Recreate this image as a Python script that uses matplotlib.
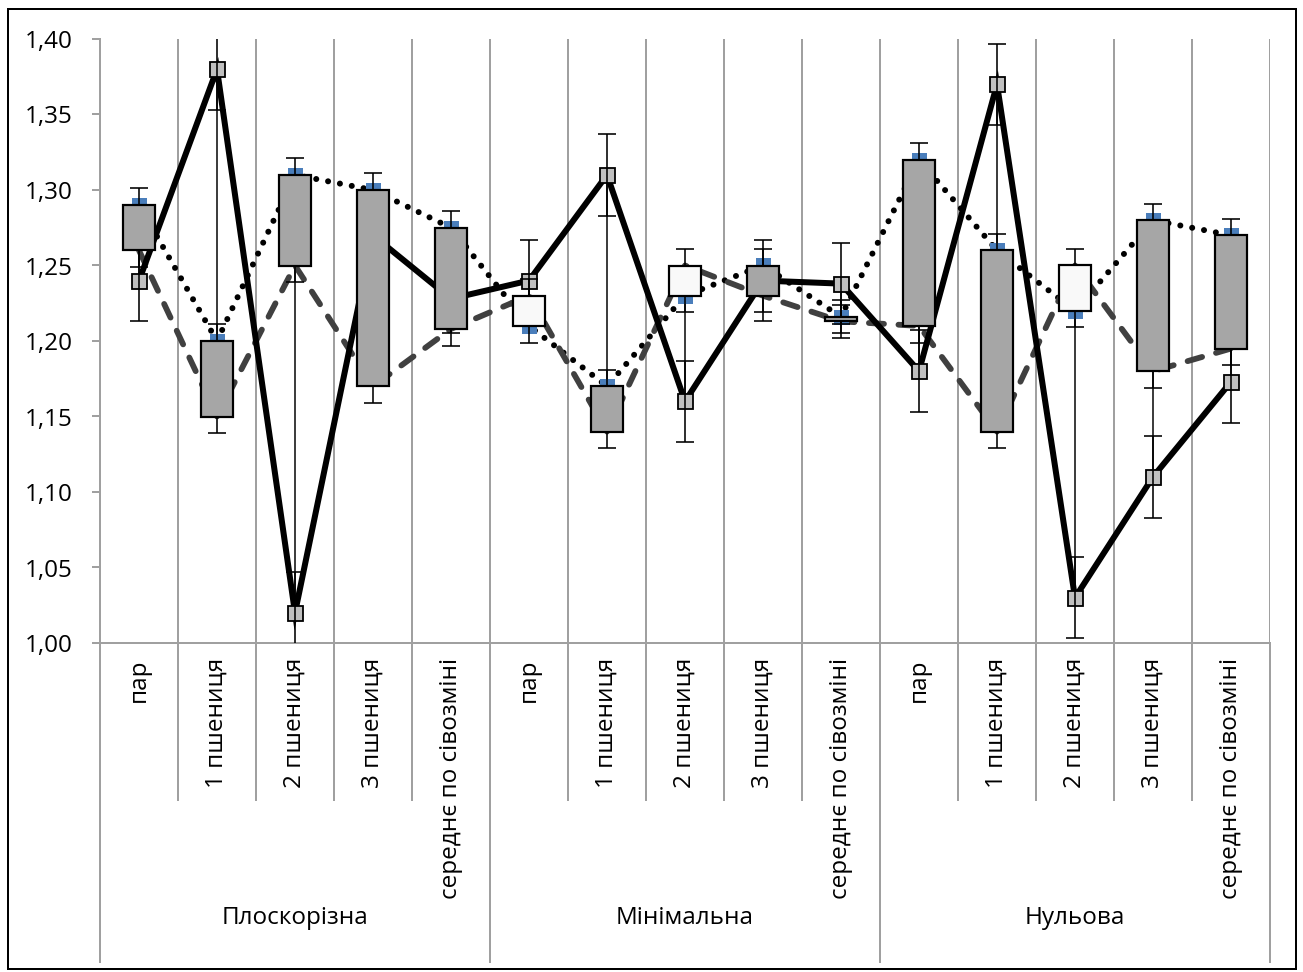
import matplotlib
matplotlib.use("Agg")
import matplotlib.pyplot as plt
from matplotlib.patches import Rectangle
from matplotlib.transforms import blended_transform_factory
import numpy as np

plt.rcParams['font.family'] = ['Open Sans', 'DejaVu Sans']

# ---------------- data ----------------
categories = ['пар', '1 пшениця', '2 пшениця', '3 пшениця', 'середнє по сівозміні',
              'пар', '1 пшениця', '2 пшениця', '3 пшениця', 'середнє по сівозміні',
              'пар', '1 пшениця', '2 пшениця', '3 пшениця', 'середнє по сівозміні']
groups = ['Плоскорізна', 'Мінімальна', 'Нульова']

open_vals = [1.29, 1.20, 1.31, 1.30, 1.275,
             1.21, 1.17, 1.23, 1.25, 1.216,
             1.32, 1.26, 1.22, 1.28, 1.27]
close_vals = [1.26, 1.15, 1.25, 1.17, 1.208,
              1.23, 1.14, 1.25, 1.23, 1.213,
              1.21, 1.14, 1.25, 1.18, 1.195]
solid_vals = [1.24, 1.38, 1.02, 1.27, 1.228,
              1.24, 1.31, 1.16, 1.24, 1.238,
              1.18, 1.37, 1.03, 1.11, 1.173]
open_err = [0.011, 0.011, 0.011, 0.011, 0.011,
            0.011, 0.011, 0.011, 0.011, 0.011,
            0.011, 0.011, 0.011, 0.011, 0.011]
close_err = [0.011, 0.011, 0.011, 0.011, 0.011,
             0.011, 0.011, 0.011, 0.011, 0.011,
             0.011, 0.011, 0.011, 0.011, 0.011]
solid_err = [0.027, 0.027, 0.027, 0.027, 0.023,
             0.027, 0.027, 0.027, 0.027, 0.027,
             0.027, 0.027, 0.027, 0.027, 0.027]

yticks = [1.00, 1.05, 1.10, 1.15, 1.20, 1.25, 1.30, 1.35, 1.40]

# ---------------- figure ----------------
W, H = 1303, 972
fig = plt.figure(figsize=(W / 100, H / 100), dpi=100)
L, R, T, B = 100, 1270, 39, 643
ax = fig.add_axes([L / W, 1 - B / H, (R - L) / W, (B - T) / H])

n = len(categories)
x = np.arange(n)
ax.set_xlim(-0.5, n - 0.5)
ax.set_ylim(1.0, 1.40)

grid_c = '#a0a0a0'
px = 0.72  # points per pixel
fs = 17.5

# vertical separators inside plot
for b in np.arange(0.5, n, 1.0):
    ax.axvline(b, color=grid_c, lw=2 * px, zorder=0)

# high-low lines
lo = np.minimum(np.minimum(open_vals, close_vals), solid_vals)
hi = np.maximum(np.maximum(open_vals, close_vals), solid_vals)
ax.vlines(x, lo, hi, color='black', lw=1.5 * px, zorder=1)

# series lines
ax.plot(x, open_vals, color='black', lw=6 * px, linestyle=(0, (0.01, 2.0)),
        dash_capstyle='round', zorder=2)
ax.plot(x, close_vals, color='#404040', lw=5.8 * px, linestyle=(0, (2.6, 2.5)),
        dash_capstyle='round', zorder=2)
ax.plot(x, solid_vals, color='black', lw=6 * px, solid_joinstyle='miter', zorder=2)

# markers
ax.plot(x, open_vals, linestyle='none', marker='s', markersize=15 * px,
        markerfacecolor='#4a7ebb', markeredgewidth=0, zorder=3)
ax.plot(x, solid_vals, linestyle='none', marker='s', markersize=15 * px,
        markerfacecolor='#c0c0c0', markeredgecolor='black', markeredgewidth=1.8 * px,
        zorder=3)

# error bars
for vals, err in [(open_vals, open_err), (close_vals, close_err), (solid_vals, solid_err)]:
    ax.errorbar(x, vals, yerr=err, fmt='none', ecolor='black', elinewidth=1.6 * px,
                capsize=6.5, capthick=1.6 * px, zorder=4)

# up/down boxes
bw = 0.41
for xi, o, c in zip(x, open_vals, close_vals):
    fc = '#a6a6a6' if o > c else '#f9f9f9'
    ax.add_patch(Rectangle((xi - bw / 2, min(o, c)), bw, abs(o - c),
                           facecolor=fc, edgecolor='black', lw=2.2 * px, zorder=6))

# axes styling
for s in ['top', 'right']:
    ax.spines[s].set_visible(False)
for s in ['left', 'bottom']:
    ax.spines[s].set_color(grid_c)
    ax.spines[s].set_linewidth(2 * px)
ax.set_yticks(yticks)
ax.set_yticklabels([f'{v:.2f}'.replace('.', ',') for v in yticks], fontsize=fs)
ax.tick_params(axis='y', direction='out', length=8 * px, width=2 * px, color=grid_c,
               pad=14)
ax.set_xticks([])

# category labels and separators below the axis
tr = blended_transform_factory(ax.transData, ax.transAxes)
ah = B - T
for xi, lab in zip(x, categories):
    ax.text(xi, -15 / ah, lab, rotation=90, ha='center', va='top', fontsize=fs,
            transform=tr)
for i, b in enumerate(np.arange(-0.5, n, 1.0)):
    depth = 962 if i % 5 == 0 else 800
    ax.plot([b, b], [0, -(depth - B) / ah], color=grid_c, lw=2 * px, transform=tr,
            clip_on=False)
for gi, g in enumerate(groups):
    ax.text(gi * 5 + 2, -(918 - B) / ah, g, ha='center', va='center', fontsize=fs,
            transform=tr)

# outer frame
fig.add_artist(Rectangle((8 / W, 1 - 969 / H), (1296 - 8) / W, (969 - 9) / H,
                         transform=fig.transFigure, fill=False, edgecolor='black',
                         lw=2 * px))

fig.savefig('out.png', dpi=100)
